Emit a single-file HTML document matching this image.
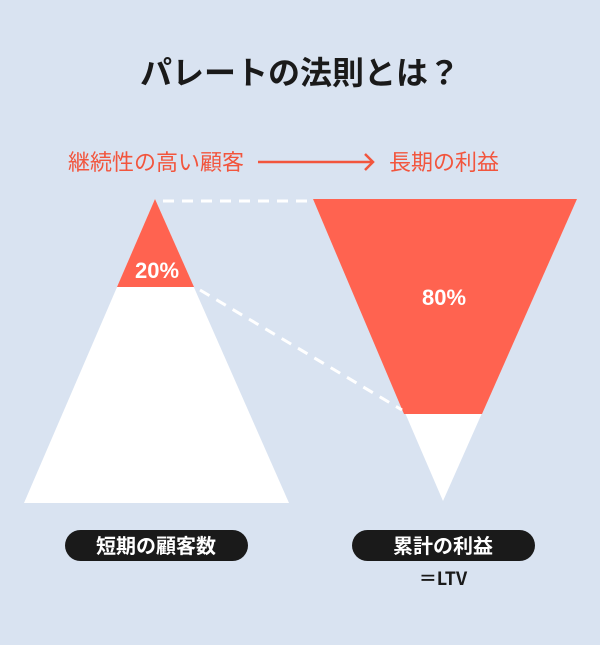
<!DOCTYPE html><html><head><meta charset="utf-8"><style>
body{margin:0;width:600px;height:645px;background:#d9e3f1;overflow:hidden;font-family:"Liberation Sans","Noto Sans CJK JP",sans-serif}
</style></head><body>
<svg width="600" height="645" xmlns="http://www.w3.org/2000/svg" style="position:absolute;left:0;top:0">
<rect width="600" height="645" fill="#d9e3f1"/>
<text x="300" y="84" text-anchor="middle" font-size="32" font-weight="bold" fill="#1a1a1a" font-family="Noto Sans CJK JP,sans-serif">パレートの法則とは？</text>
<text x="156" y="170" text-anchor="middle" font-size="22" fill="#f2553d" font-family="Noto Sans CJK JP,sans-serif">継続性の高い顧客</text>
<text x="444" y="170" text-anchor="middle" font-size="22" fill="#f2553d" font-family="Noto Sans CJK JP,sans-serif">長期の利益</text>
<line x1="258" y1="162" x2="372" y2="162" stroke="#f2553d" stroke-width="2.5"/>
<polyline points="365,154 373,162 365,170" fill="none" stroke="#f2553d" stroke-width="2.5"/>
<polygon points="155,199 289,503 24,503" fill="#fff"/>
<polygon points="155,199 194,287 117,287" fill="#ff6350"/>
<polygon points="313,199 577,199 443,501" fill="#fff"/>
<polygon points="313,199 577,199 482,414 404,414" fill="#ff6350"/>
<line x1="163" y1="201" x2="308" y2="201" stroke="#fff" stroke-width="3" stroke-dasharray="11,8"/>
<line x1="200" y1="290" x2="402" y2="410" stroke="#fff" stroke-width="3" stroke-dasharray="11,8"/>
<text x="157" y="278" text-anchor="middle" font-size="22" font-weight="bold" fill="#fff">20%</text>
<text x="444" y="305" text-anchor="middle" font-size="22" font-weight="bold" fill="#fff">80%</text>
<rect x="65" y="530" width="183" height="31" rx="15.5" fill="#1a1a1a"/>
<rect x="352" y="530" width="183" height="31" rx="15.5" fill="#1a1a1a"/>
<text x="156" y="553" text-anchor="middle" font-size="20" font-weight="bold" fill="#fff" font-family="Noto Sans CJK JP,sans-serif">短期の顧客数</text>
<text x="443" y="553" text-anchor="middle" font-size="20" font-weight="bold" fill="#fff" font-family="Noto Sans CJK JP,sans-serif">累計の利益</text>
<text x="443" y="585" text-anchor="middle" font-size="18" font-weight="bold" fill="#1a1a1a" font-family="Noto Sans CJK JP,sans-serif">＝LTV</text>
</svg>
</body></html>
